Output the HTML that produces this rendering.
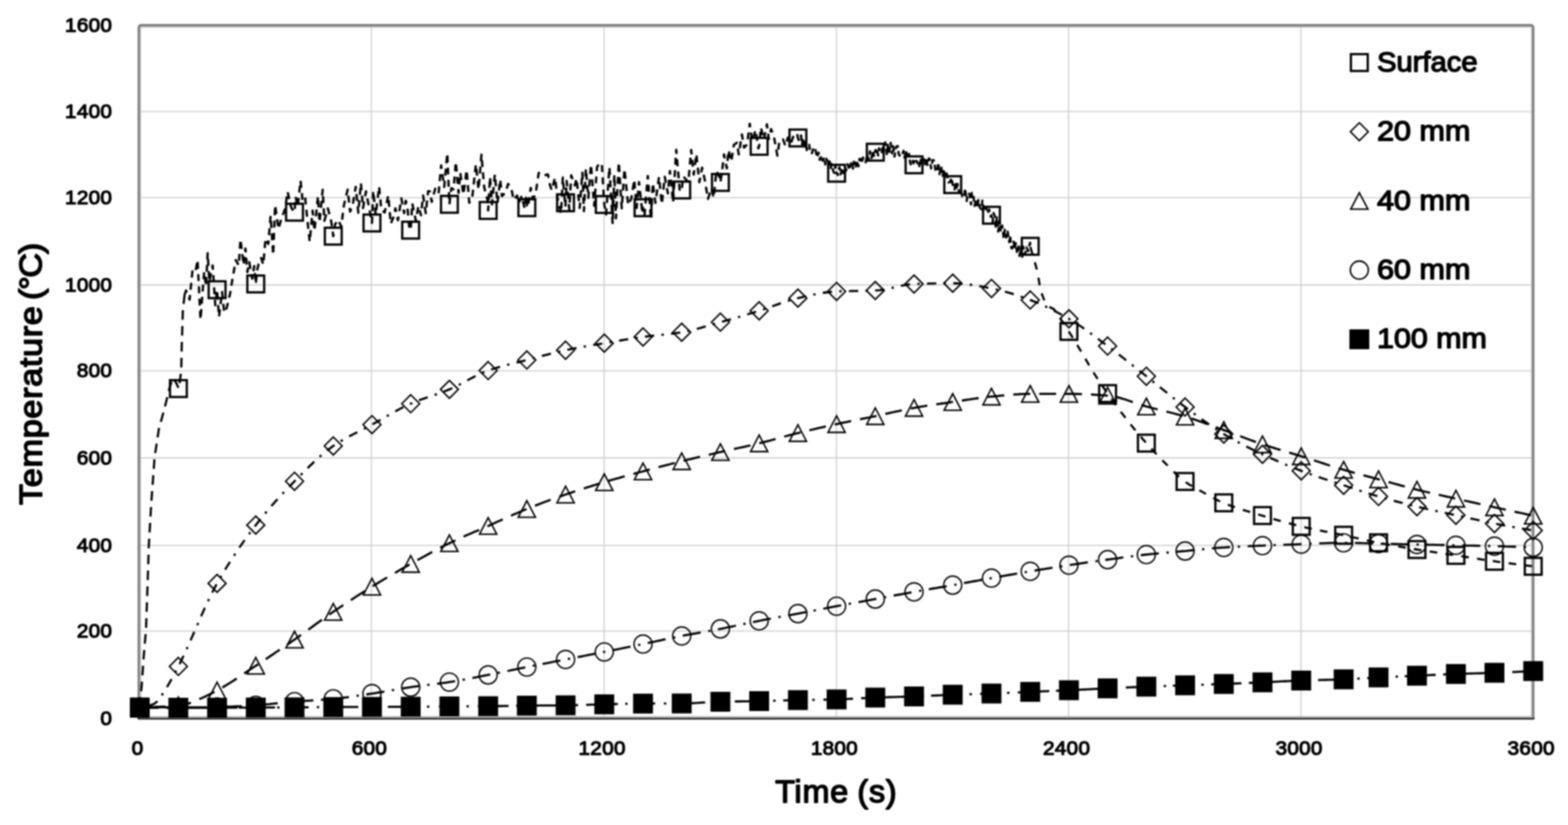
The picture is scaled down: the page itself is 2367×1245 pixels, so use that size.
<!DOCTYPE html>
<html lang="en"><head><meta charset="utf-8"><title>Temperature vs time</title>
<style>
html,body{margin:0;padding:0;background:#fff;}
body{width:2367px;height:1245px;overflow:hidden;}
svg{display:block;}
text{font-family:"Liberation Sans",sans-serif;font-weight:normal;fill:#000;stroke:#000;stroke-linejoin:round;stroke-linecap:round;}
.tick{font-size:29.3px;stroke-width:1.5px;letter-spacing:0.35px;}
.title{font-size:48px;stroke-width:2.1px;}
.tl{letter-spacing:0.95px;}
.tp{letter-spacing:-1.8px;}
.tm{letter-spacing:1.2px;word-spacing:-2px;}
.leg{font-size:42.6px;stroke-width:1.9px;}
.grid line{stroke:#cfcfcf;stroke-width:1.8;}
.mk{fill:none;stroke:#000;stroke-width:2.3;}
.ln{fill:none;stroke:#000;stroke-width:3.3;stroke-linecap:butt;stroke-linejoin:round;}
</style></head><body>
<svg width="2367" height="1245" viewBox="0 0 2367 1245" role="img" aria-label="Temperature versus time chart">
<defs><filter id="soft" x="0" y="0" width="2367" height="1245" filterUnits="userSpaceOnUse" color-interpolation-filters="sRGB"><feGaussianBlur stdDeviation="0.8" result="b"/><feComposite in="SourceGraphic" in2="b" operator="arithmetic" k1="0" k2="0" k3="1" k4="0"/></filter></defs>
<g filter="url(#soft)">
<rect width="2367" height="1245" fill="#fff"/>
<g class="grid">
<line x1="210.6" y1="168.4" x2="2314.4" y2="168.4"/>
<line x1="210.6" y1="298.3" x2="2314.4" y2="298.3"/>
<line x1="210.6" y1="430" x2="2314.4" y2="430"/>
<line x1="210.6" y1="559.6" x2="2314.4" y2="559.6"/>
<line x1="210.6" y1="691" x2="2314.4" y2="691"/>
<line x1="210.6" y1="823.2" x2="2314.4" y2="823.2"/>
<line x1="210.6" y1="952.3" x2="2314.4" y2="952.3"/>
<line x1="560.6" y1="38.2" x2="560.6" y2="1084.2"/>
<line x1="911.9" y1="38.2" x2="911.9" y2="1084.2"/>
<line x1="1262.5" y1="38.2" x2="1262.5" y2="1084.2"/>
<line x1="1613.1" y1="38.2" x2="1613.1" y2="1084.2"/>
<line x1="1964" y1="38.2" x2="1964" y2="1084.2"/>
</g>
<rect x="211.6" y="40.3" width="2100.9" height="1041.7" rx="2" ry="2" fill="none" stroke="#b4b4b4" stroke-width="2.4"/>
<path d="M209.3 1083.5V41.4a3.5 3.5 0 0 1 3.5 -3.5H2311.2a3.5 3.5 0 0 1 3.5 3.5V1083.5" fill="none" stroke="#7a7a7a" stroke-width="3.1"/>
<path d="M208.2 1083.2q0.3 1.5 2.4 1.5H2313.4q2.1 0 2.4 -1.5" fill="none" stroke="#2e2e2e" stroke-width="2.7"/>
<text class="tick" transform="translate(169.3 47.7) scale(1.070 1)" text-anchor="end">1600</text>
<text class="tick" transform="translate(169.3 177.9) scale(1.070 1)" text-anchor="end">1400</text>
<text class="tick" transform="translate(169.3 307.8) scale(1.070 1)" text-anchor="end">1200</text>
<text class="tick" transform="translate(169.3 439.5) scale(1.070 1)" text-anchor="end">1000</text>
<text class="tick" transform="translate(169.3 569.1) scale(1.070 1)" text-anchor="end">800</text>
<text class="tick" transform="translate(169.3 700.5) scale(1.070 1)" text-anchor="end">600</text>
<text class="tick" transform="translate(169.3 832.7) scale(1.070 1)" text-anchor="end">400</text>
<text class="tick" transform="translate(169.3 961.8) scale(1.070 1)" text-anchor="end">200</text>
<text class="tick" transform="translate(169.3 1093.7) scale(1.070 1)" text-anchor="end">0</text>
<text class="tick" transform="translate(207.6 1139.4) scale(1.070 1)" text-anchor="middle">0</text>
<text class="tick" transform="translate(557.6 1139.4) scale(1.070 1)" text-anchor="middle">600</text>
<text class="tick" transform="translate(908.9 1139.4) scale(1.070 1)" text-anchor="middle">1200</text>
<text class="tick" transform="translate(1259.5 1139.4) scale(1.070 1)" text-anchor="middle">1800</text>
<text class="tick" transform="translate(1610.1 1139.4) scale(1.070 1)" text-anchor="middle">2400</text>
<text class="tick" transform="translate(1961 1139.4) scale(1.070 1)" text-anchor="middle">3000</text>
<text class="tick" transform="translate(2311.4 1139.4) scale(1.070 1)" text-anchor="middle">3600</text>
<text class="title tm" transform="translate(1170.2 1211) scale(1.015 1)">Time (s)</text>
<text class="title" transform="translate(62.8 762) rotate(-90) scale(1.075 1)"><tspan class="tl">Temperature </tspan><tspan class="tp" x="287.6">(°C)</tspan></text>
<path class="ln" style="stroke-dasharray:14.5 9.5" d="M211 1067 212.6 1050 214.2 1030 217 990 220.4 950 222.5 890 224.7 822 228.5 757 233.4 690 239.9 647 248.5 616 256 585 261 570 266 578 270 586.4 273.5 560 274.5 517 276 470 278.6 445"/>
<path class="ln" style="stroke-width:3.5;stroke-dasharray:10.5 8" d="M278.6 445 280.9 438.3 286.2 452.2 290.5 409.4 294.8 411.7 298.2 392.3 302.7 482.2 308.2 410 311 432 313.5 381.9 316 425 321 400.6 325 460.7 327.7 437.2 330.6 478.1 335.2 440.4 338.5 471.7 342.1 465 347.5 442.3 350.6 422.9 356 392.4 360.4 400.6 363 361 367.8 399.8 370.5 374.9 373.4 410.6 376.3 395.5 380.7 420.6 383.8 401.5 386.1 428.5 388.1 408 391.7 392.7 394.3 389.4 397.5 399.3 400.8 359.9 405 368.1 408.5 325.8 412.4 384.7 415.3 309.5 420.3 345.5 425 329.3 430.4 315.1 434.1 289.2 439.5 312.8 442.7 318.1 444.6 320.2 446.3 297.1 449.4 312.2 453.7 272.6 456.7 302.1 460.5 296.9 464 331.7 467.5 364.8 471.9 317.8 474.7 348.2 480 296.1 482.4 335.7 487.1 286.3 489.7 333.2 494.9 314.5 499.8 332.9 503.1 356.4 505.8 338.6 510.7 331.8 515.1 342.2 519.3 308.9 524.9 286.1 528.5 319.4 532.2 310.8 537 281.9 540.9 321.1 544.8 276.2 548 314.1 552.5 288.8 557.7 316.2 561.5 336.5 563.4 288.1 567.2 324.2 572.3 281.5 575.7 317 580.7 320.7 586.1 294.9 589.9 337.6 593.6 328.5 596.9 314.4 600.7 332.4 605.9 299.3 610 321.8 612.4 302.9 614.8 309.4 617.6 341.7 620 347.3 622.3 306.8 627.8 333.2 631.6 311 635.5 324.9 638.7 295 642.7 321.8 646.3 288.4 648.9 288.7 651.7 304.8 656.9 284.8 662.1 292.2 665.9 249.6 670.6 282.2 675.2 231.3 678.4 308.3 681.3 283.9 684.7 285.6 688.1 244.2 692.2 291 694.7 260.6 699.6 293.5 704.4 256.6 708.4 305.9 713 296.8 718.4 248.1 722.4 285.9 726.8 233.3 730.9 282.5 736 302.1 736.9 317.6 739.7 267 742.7 308.4 747 263.2 751 306.7 755.1 270.9 757.7 295.9 763.1 290.6 767 277.5 771.9 284.3 775.3 301.7 780.6 295 783 306.7 787.5 295.7 791.9 314.5 794.6 295 795.3 313.4 797.5 308.5 801.2 283.4 804.2 300.1 808.2 294.4 813.3 260.8 818.3 264.5 821.6 264.5 827.2 263.3 830.3 279.6 832.9 287.1 837.8 268.2 842.3 302.9 846.9 322.1 849.6 267.8 853.5 312.2 853.8 306 855.4 272.9 859.4 316.1 862.3 264.6 867.8 279.9 870.3 269.3 875.1 313.8 879.1 260.5 881.5 318.7 884.4 254.4 888.1 298.7 892.1 248.2 897 310.6 901.3 252 905.3 246 908.5 247.9 912.2 308.6 914.9 323.8 920 252.3 924.8 338.2 927.4 263.7 929.8 329.6 934.1 244.8 938.6 314.5 942.7 255 948.3 309.3 953.1 299.2 957.4 271.3 961 313.8 964.6 274.7 969.8 322.2 970.7 313.5 972.9 325.7 977.9 265.4 982.7 331.3 985.5 276.3 989.4 306.2 994.8 267 999.1 308 1003.5 266.7 1008.2 291.9 1011.3 258 1016.1 306 1020.8 226 1026.2 288.9 1029.1 286.7 1031.3 266.2 1035.3 270.4 1039.1 274.7 1043.4 226.3 1047.2 263.4 1051.2 232.6 1055.7 274.9 1059.9 252.9 1064 271.8 1068.7 300.3 1073.9 284.5 1077.4 298.4 1081.5 257.7 1086.3 267.6 1087.5 275.3 1090.3 256.2 1092.9 232.9 1097.2 254.1 1099.8 226.5 1103.9 243.7 1107.8 218.7 1112.5 215.3 1115.2 233 1120 202.9 1123.2 222.7 1127.7 218.2 1131.8 186.8 1135.5 213.2 1140.6 196.3 1144.8 223.9 1146 220.8 1148.6 192.3 1153.1 210.8 1157.7 187.5 1160.5 209.8 1164 194.8 1168.2 205.7 1173.5 234.9 1176.8 211.8 1182.1 210.5 1185.6 220.3 1189.3 207.7 1193.4 217 1198.4 203.9 1203.2 201.3 1204.5 208.2 1206.7 213.3 1209.3 204.4 1210.7 219"/>
<path class="ln" style="stroke-width:3.4;stroke-dasharray:9 5" d="M1210.7 219 1212.1 208.3 1214.6 222.7 1216.1 214 1217.8 226.5 1219.8 218.3 1221.5 218.4 1223.5 230.7 1225.8 231 1228.2 222.7 1230.6 224.3 1233.3 237.2 1235.6 230.2 1237.4 241.3 1240.1 234.8 1241.7 242.5 1244.3 237.5 1245.8 248.2 1247.3 239.6 1249.4 243.4 1250.9 250.3 1252.5 243.6 1254.1 253.5 1255.6 247.7 1257.7 257.7 1259.3 261.1 1261.1 249.8 1262.9 261.4 1264.7 264.1 1267.1 252.4 1269.1 263.2 1271.3 253.6 1273.3 261.3 1275.5 251.9 1277.1 257.5 1279.6 247.8 1282.2 256.3 1283.7 248.7 1286.2 243.8 1287.6 254.6 1289 244 1291.6 253.3 1293.3 242.2 1295.9 251.1 1297.5 239.7 1299 240 1300.7 246.4 1302.7 237.7 1304.9 244.2 1306.8 244.9 1309 233.7 1311.3 241 1313.3 228.3 1315.7 238.5 1317.4 227.8 1319.1 235.4 1321.3 226.9 1321.3 229.7 1323.3 223.8 1325.6 234.7 1327 223.6 1329.2 229.7 1331.1 231.5 1332.5 219.6 1334 227 1336.5 214.8 1338.7 232.5 1340.6 216.4 1341.9 232.7 1344.5 215.4 1346.7 231.5 1348.4 220.6 1350.3 236.3 1352.7 221.8 1355.1 220.2 1356.8 233 1359.1 236.1 1361.4 234.7 1364 227.6 1365.4 238 1367.7 227.1 1369.5 239.6 1372.1 232.2 1374.2 246.4 1375.8 250 1378.3 242.6 1379.8 248.7 1381.7 243.2 1383.8 242.9 1385.8 248.2 1387.4 252.3 1389.6 238.9 1391.9 249.8 1394.3 240 1396.3 248 1398.3 238 1400 249.1 1402.2 239.1 1403.7 240.3 1405.6 254.3 1407.9 241.6 1409.8 242 1412.3 257.3 1414.4 259.2 1416.4 245.5 1418.2 262.9 1420.7 250.9 1423 265.5 1424.4 254.8 1426.4 264.8 1428.7 259.4 1430.4 269.3 1431.8 275 1434 275.2 1436.4 268.4 1438.2 278.6 1441 285.9 1442.5 274.4 1443.8 286.6 1445.5 277.4 1447.9 291.4 1450.1 286.2 1452.6 296.3 1455.2 298.1 1456.8 284.6 1459.3 303.4 1461.1 291.6 1463.6 292.8 1465.8 308.6 1467.1 291 1468.9 291.3 1471.2 310.7 1473.8 300.5 1475.4 313.1 1476.9 301.9 1479.1 313.2 1481.4 315.8 1483 302.6 1485.2 318.3 1486.6 318.7 1488.6 312.8 1490.8 321.9 1493.2 316.1 1495.5 327 1496.7 324.8 1498.4 335.3 1499.8 321.4 1501.6 325.4 1503.1 342 1504.9 328 1506.9 349.5 1509.2 332.1 1510.7 349.2 1512.8 340.3 1515.2 359.3 1516.8 346.8 1518.9 358.4 1521.1 349.6 1523.6 365.5 1524.9 355.8 1526.8 374.5 1528.2 374.8 1530.2 364.6 1531.7 375.8 1533.4 366.9 1535.1 380.3 1537.5 371.9 1539 386.2 1541.4 372.7 1543.2 387.6 1544.6 372.2 1547.2 384.3 1549.6 373.3 1552.1 379.1 1553.8 370.5 1555.1 366.3 1555 371.7"/>
<path class="ln" d="M1555.3 372.5L1558.6 383.6M1562.1 395.7L1565.2 406.7M1567.6 419.1L1569.5 430.4M1572.4 442.7L1576 452 1576.6 453.3M1584 463.2L1587 464.5 1591 466.8 1593.5 469.4M1600.5 479.8L1604 486.4 1606.2 489.8M1613.4 500.2L1617 505.9 1619.5 509.9M1626.1 520.6L1630 527.1 1632.1 530.5M1638.4 541.4L1642.1 547.7 1644.2 551.3M1650.7 562.1L1654.1 567.4 1656.9 571.8M1663.9 582.2L1667.1 586.8 1670.5 591.7M1677.7 602L1681.1 606.7 1684.4 611.3M1691.9 621.5L1695.1 625.6 1698.9 630.6M1706.7 640.5L1710.1 644.7 1714 649.4M1722.1 659L1725.1 662.6 1729.1 667.1 1729.6 667.7M1738.1 677.1L1741.1 680.4 1745.1 684.7 1745.9 685.5M1754.6 694.6L1758.1 698.1 1762.1 702.1 1762.7 702.7M1771.6 711.7L1775.1 715.1 1779.1 718.9 1779.9 719.6M1789.8 727.5L1793.2 729.8 1797.2 732.4 1799.4 733.7M1810.4 739.9L1814.2 741.9 1818.2 744.1 1820.5 745.4M1831.5 751.5L1835.2 753.5 1839.2 755.5 1841.8 756.7M1853.4 761.5L1857.2 763 1861.2 764.4 1864.2 765.4M1876.2 769.4L1879.2 770.3 1883.2 771.5 1887.2 772.7M1899.3 776.3L1903.2 777.5 1907.2 778.7 1910.3 779.6M1922.4 783.2L1926.2 784.3 1930.2 785.4 1933.4 786.3M1945.6 789.7L1949.3 790.7 1953.3 791.7 1956.7 792.6M1969 795.5L1972.3 796.3 1976.3 797.1 1980.2 798M1992.5 800.5L1996.3 801.3 2000.3 802.1 2003.8 802.7M2016.2 805.2L2019.3 805.8 2023.3 806.7 2027.3 807.5 2027.4 807.5M2039.8 810.2L2043.3 811 2047.3 811.9 2051 812.7M2063.3 815.4L2066.3 816.1 2070.3 816.9 2074.3 817.8 2074.5 817.8M2086.9 820.2L2090.4 820.9 2094.4 821.6 2098.2 822.3M2110.6 824.5L2114.4 825.2 2118.4 825.9 2121.9 826.5M2134.4 828.5L2137.4 829 2141.4 829.7 2145.4 830.3 2145.7 830.4M2158.2 832.3L2161.4 832.7 2165.4 833.3 2169.4 833.9 2169.6 833.9M2182 835.8L2185.4 836.3 2189.4 836.8 2193.4 837.4M2205.9 839.3L2209.4 839.9 2213.4 840.5 2217.2 841.1M2229.7 843.1L2233.4 843.6 2237.4 844.3 2241 844.8M2253.5 846.6L2257.5 847.2 2261.5 847.8 2264.9 848.2M2277.4 849.9L2280.5 850.3 2284.5 850.9 2288.5 851.4 2288.8 851.4M2301.3 853L2304.5 853.4 2308.5 853.9 2312.5 854.4 2312.7 854.4"/>
<g class="mk" style="stroke-width:3.4">
<rect x="198.3" y="1054.3" width="25.4" height="25.4"/>
<rect x="256.6" y="573.7" width="25.4" height="25.4"/>
<rect x="315" y="424.5" width="25.4" height="25.4"/>
<rect x="373.4" y="415.8" width="25.4" height="25.4"/>
<rect x="431.9" y="307.5" width="25.4" height="25.4"/>
<rect x="490.4" y="343.7" width="25.4" height="25.4"/>
<rect x="548.8" y="323.8" width="25.4" height="25.4"/>
<rect x="607.2" y="334.6" width="25.4" height="25.4"/>
<rect x="665.7" y="295.6" width="25.4" height="25.4"/>
<rect x="724.2" y="304.9" width="25.4" height="25.4"/>
<rect x="782.6" y="300.7" width="25.4" height="25.4"/>
<rect x="841" y="293.3" width="25.4" height="25.4"/>
<rect x="899.5" y="295.9" width="25.4" height="25.4"/>
<rect x="958" y="300.8" width="25.4" height="25.4"/>
<rect x="1016.4" y="274" width="25.4" height="25.4"/>
<rect x="1074.8" y="262.6" width="25.4" height="25.4"/>
<rect x="1133.3" y="208.1" width="25.4" height="25.4"/>
<rect x="1191.8" y="195.5" width="25.4" height="25.4"/>
<rect x="1250.2" y="248.7" width="25.4" height="25.4"/>
<rect x="1308.6" y="217" width="25.4" height="25.4"/>
<rect x="1367.1" y="236" width="25.4" height="25.4"/>
<rect x="1425.5" y="265.9" width="25.4" height="25.4"/>
<rect x="1484" y="312.1" width="25.4" height="25.4"/>
<rect x="1542.5" y="359" width="25.4" height="25.4"/>
<rect x="1600.9" y="487.4" width="25.4" height="25.4"/>
<rect x="1659.3" y="581.2" width="25.4" height="25.4"/>
<rect x="1717.8" y="656" width="25.4" height="25.4"/>
<rect x="1776.2" y="713.9" width="25.4" height="25.4"/>
<rect x="1834.7" y="746.1" width="25.4" height="25.4"/>
<rect x="1893.1" y="765.3" width="25.4" height="25.4"/>
<rect x="1951.6" y="781.6" width="25.4" height="25.4"/>
<rect x="2015.6" y="795" width="25.4" height="25.4"/>
<rect x="2068.3" y="806.4" width="25.4" height="25.4"/>
<rect x="2126.3" y="816.6" width="25.4" height="25.4"/>
<rect x="2185.1" y="825.4" width="25.4" height="25.4"/>
<rect x="2243.3" y="834.3" width="25.4" height="25.4"/>
<rect x="2301.8" y="841.9" width="25.4" height="25.4"/>
</g>
<path class="ln" d="M211.2 1067L214.8 1066.8M225.6 1064.7L229 1063.5 233 1062 237 1058.8 237.6 1058.1M244.1 1049.2L246.2 1046.3M252 1037L256 1030.1 259 1024.8M264.3 1015.2L266 1012M271 1002.2L275 994.1 277.1 989.6M281.7 979.6L283.2 976.4M287.7 966.3L291 958.8 293.3 953.5M297.7 943.4L299.2 940.1M303.6 930L307 922.4 309.3 917.3M314 907.3L315.5 904M320.4 894.2L324 887.1 326.9 881.8M332.4 872.2L334.2 869.1M339.8 859.7L343 854.5 347 848.1 347.2 847.8M353.2 838.6L355.2 835.6M361.3 826.4L365 821.1 369 815.4 369.3 815M375.8 806.1L378 803.2M384.6 794.4L388 790 392 784.9 393.2 783.4M400.2 774.9L402.5 772.1M409.7 763.8L413 759.9 417 755.4 419 753.3M426.4 745.2L428.9 742.6M436.5 734.6L440.1 730.9 444.1 726.9 446.3 724.6M454 716.8L456.5 714.2M464.3 706.5L468.1 702.8 472.1 699 474.4 696.8M482.5 689.3L485.2 687M493.7 679.9L497.1 677.3 501.1 674.4 505 671.7M514.3 665.8L517.4 664M527 658.6L530.1 657 534.1 654.9 538.1 652.9 539.4 652.2M549.3 647.2L552.5 645.6M562.2 640.4L566.1 638.3 570.1 636 574.1 633.7 574.4 633.6M583.9 628.1L587 626.3M596.6 620.9L600.1 619 604.1 616.9 608.1 614.8 609 614.4M618.9 609.6L622.1 608.3 622.2 608.2M632.5 604.1L636.1 602.8 640.1 601.4 644.1 600 645.7 599.5M656.1 595.9L659.1 594.9 659.5 594.7M669.8 591L673.1 589.7 677.1 588.1 681.1 586.4 682.8 585.7M692.6 580.9L695.8 579.2M705.5 574L709.1 572.1 713.1 570 717.1 567.9 717.9 567.5M727.9 562.8L731.1 561.4 731.2 561.4M741.5 557.6L745.1 556.5 749.1 555.2 753.1 554.1 754.9 553.6M765.5 550.7L769 549.8M779.7 547.1L783.1 546.3 787.1 545.3 791.1 544.3 793.3 543.7M803.9 540.9L807.1 540.1 807.4 540M818 537.2L821.1 536.4 825.1 535.3 829.1 534.3 831.6 533.7M842.3 531.1L845.8 530.3M856.5 527.9L860.2 527.2 864.2 526.4 868.2 525.6 870.3 525.2M881.1 523.2L884.2 522.7 884.6 522.6M895.5 520.7L899.2 520.1 903.2 519.4 907.2 518.8 909.3 518.4M920.1 516.6L923.2 516 923.7 515.9M934.5 514.1L938.2 513.5 942.2 512.8 946.2 512.2 948.3 511.8M959.2 510.2L962.7 509.6M973.6 508.1L977.2 507.6 981.2 507.2 985.2 506.7 987.5 506.5M998.5 505.3L1002.1 504.9M1013 503.7L1016.2 503.3 1020.2 502.7 1024.2 502.2 1026.9 501.8M1037.7 499.8L1041.2 499M1051.9 496.4L1055.2 495.5 1059.2 494.4 1063.2 493.2 1065.4 492.6M1075.9 489.5L1079.2 488.6 1079.4 488.5M1090 485.5L1093.2 484.6 1097.2 483.5 1101.2 482.4 1103.4 481.7M1114 478.7L1117.2 477.7 1117.4 477.6M1128 474.5L1131.2 473.5 1135.2 472.3 1139.2 471.1 1141.4 470.4M1151.9 467.1L1155.2 466 1155.3 466M1165.7 462.3L1169.2 461 1173.2 459.6 1177.2 458.1 1178.8 457.6M1189.3 454.1L1192.7 453M1203.3 450.2L1207.2 449.3 1211.2 448.4 1215.2 447.4 1217 447M1227.7 444.7L1231.2 444 1231.2 444M1242.1 442L1245.2 441.5 1249.2 441 1253.2 440.5 1256 440.3M1266.9 439.6L1270.3 439.5 1270.5 439.5M1281.5 439.3L1285.3 439.2 1289.3 439.1 1293.3 439.1 1295.5 439M1306.5 438.9L1310.1 438.8M1321.1 438.4L1324.3 438.2 1328.3 437.8 1332.3 437.3 1335 436.8M1345.8 434.6L1349.3 433.8 1349.3 433.8M1360 431.3L1363.3 430.7 1367.3 430 1371.3 429.3 1373.8 429M1384.8 428.4L1388.3 428.3 1388.4 428.3M1399.4 428L1403.3 427.9 1407.3 427.8 1411.3 427.7 1413.4 427.6M1424.4 427.5L1428 427.4M1439 427.4L1442.3 427.5 1446.3 427.6 1450.3 427.9 1453 428.1M1463.9 429.5L1467.3 430 1467.5 430M1478.3 431.8L1481.3 432.4 1485.3 433.1 1489.3 433.9 1492.1 434.4M1502.9 436.5L1506.3 437.3 1506.4 437.3M1517 440.1L1520.3 441 1524.3 442.2 1528.3 443.4 1530.4 444.1M1540.9 447.6L1544.3 448.8M1554.6 452.5L1558.3 453.9 1562.3 455.5 1566.3 457.1 1567.6 457.7M1577.6 462.2L1580.9 463.7M1590.7 468.6L1594.3 470.5 1598.3 472.6 1602.3 474.8 1603.1 475.2M1612.7 480.6L1615.8 482.4M1625.1 488.2L1628.3 490.3 1632.3 493 1636.3 495.8 1636.7 496.1M1645.6 502.5L1648.5 504.6M1657.4 511.2L1661.3 514.2 1665.3 517.2 1668.6 519.6M1677.4 526.2L1680.3 528.4M1689 535L1692.4 537.7 1696.4 540.8 1700 543.7M1708.6 550.5L1711.5 552.7M1720.1 559.6L1723.4 562.2 1727.4 565.3 1731.1 568.2M1739.7 575.1L1742.5 577.4M1751 584.3L1754.4 587 1758.4 590.2 1761.9 593.1M1770.5 600L1773.3 602.2M1782 608.9L1785.4 611.5 1789.4 614.5 1793.2 617.4M1802 623.9L1804.9 626M1813.8 632.5L1817.4 635.1 1821.4 637.9 1825.2 640.6M1834.4 646.8L1837.4 648.7M1846.7 654.6L1850.4 656.8 1854.4 659.1 1858.4 661.4 1858.8 661.6M1868.4 666.9L1871.6 668.6M1881.4 673.7L1884.4 675.2 1888.4 677.2 1892.4 679.2 1893.9 679.9M1903.8 684.7L1907.1 686.2M1917.1 690.8L1920.4 692.3 1924.4 694.1 1928.4 695.8 1929.9 696.5M1940 700.8L1943.3 702.2M1953.5 706.3L1957.4 707.8 1961.4 709.4 1965.4 710.9 1966.6 711.4M1976.9 715.1L1980.3 716.3M1990.7 719.9L1994.4 721.2 1998.4 722.5 2002.4 723.8 2004 724.3M2014.4 727.8L2017.9 728.9M2028.3 732.3L2031.4 733.3 2035.4 734.7 2039.4 736 2041.6 736.7M2052 740.2L2055.4 741.3 2055.5 741.3M2065.9 744.6L2069.4 745.7 2073.4 747 2077.4 748.2 2079.3 748.7M2089.9 751.8L2093.4 752.7M2104 755.7L2107.5 756.6 2111.5 757.7 2115.5 758.7 2117.5 759.2M2128.2 761.9L2131.5 762.8 2131.7 762.8M2142.3 765.4L2145.5 766.1 2149.5 767 2153.5 768 2156 768.5M2166.7 770.9L2170.3 771.6M2181 773.9L2184.5 774.6 2188.5 775.5 2192.5 776.4 2194.7 776.8M2205.5 779.2L2208.5 779.8 2209 780M2219.7 782.3L2223.5 783.2 2227.5 784 2231.5 784.9 2233.4 785.3M2244.2 787.6L2247.5 788.3 2247.7 788.3M2258.5 790.5L2261.5 791.1 2265.5 791.8 2269.5 792.6 2272.2 793.1M2283 795.1L2286.5 795.7 2286.6 795.7M2297.4 797.6L2300.5 798.2 2304.5 798.8 2308.5 799.5 2311.2 800"/>
<g class="mk">
<path d="M211 1053.5L224.5 1067L211 1080.5L197.5 1067Z"/>
<path d="M269.2 992.2L282.8 1005.7L269.2 1019.2L255.8 1005.7Z"/>
<path d="M327.7 866.9L341.2 880.4L327.7 893.9L314.2 880.4Z"/>
<path d="M386.1 778.9L399.6 792.4L386.1 805.9L372.6 792.4Z"/>
<path d="M444.6 712.8L458.1 726.3L444.6 739.8L431.1 726.3Z"/>
<path d="M503.1 659.5L516.5 673L503.1 686.5L489.6 673Z"/>
<path d="M561.5 627.3L575 640.8L561.5 654.3L548 640.8Z"/>
<path d="M620 595.7L633.5 609.2L620 622.7L606.5 609.2Z"/>
<path d="M678.4 574.1L691.9 587.6L678.4 601.1L664.9 587.6Z"/>
<path d="M736.9 545.7L750.4 559.2L736.9 572.7L723.4 559.2Z"/>
<path d="M795.3 529.7L808.8 543.2L795.3 556.7L781.8 543.2Z"/>
<path d="M853.8 515L867.2 528.5L853.8 542L840.2 528.5Z"/>
<path d="M912.2 504.4L925.7 517.9L912.2 531.4L898.7 517.9Z"/>
<path d="M970.7 495L984.2 508.5L970.7 522L957.2 508.5Z"/>
<path d="M1029.1 487.9L1042.6 501.4L1029.1 514.9L1015.6 501.4Z"/>
<path d="M1087.5 472.7L1101 486.2L1087.5 499.7L1074 486.2Z"/>
<path d="M1146 455.5L1159.5 469L1146 482.5L1132.5 469Z"/>
<path d="M1204.5 436.4L1218 449.9L1204.5 463.4L1191 449.9Z"/>
<path d="M1262.9 426.3L1276.4 439.8L1262.9 453.3L1249.4 439.8Z"/>
<path d="M1321.3 424.9L1334.8 438.4L1321.3 451.9L1307.8 438.4Z"/>
<path d="M1379.8 415.1L1393.3 428.6L1379.8 442.1L1366.3 428.6Z"/>
<path d="M1438.2 413.9L1451.8 427.4L1438.2 440.9L1424.8 427.4Z"/>
<path d="M1496.7 421.8L1510.2 435.3L1496.7 448.8L1483.2 435.3Z"/>
<path d="M1555.2 439.2L1568.7 452.7L1555.2 466.2L1541.7 452.7Z"/>
<path d="M1613.6 467.6L1627.1 481.1L1613.6 494.6L1600.1 481.1Z"/>
<path d="M1672 508.7L1685.5 522.2L1672 535.7L1658.5 522.2Z"/>
<path d="M1730.5 554.3L1744 567.8L1730.5 581.3L1717 567.8Z"/>
<path d="M1789 600.7L1802.5 614.2L1789 627.7L1775.5 614.2Z"/>
<path d="M1847.4 641.5L1860.9 655L1847.4 668.5L1833.9 655Z"/>
<path d="M1905.8 672.1L1919.3 685.6L1905.8 699.1L1892.3 685.6Z"/>
<path d="M1964.3 697L1977.8 710.5L1964.3 724L1950.8 710.5Z"/>
<path d="M2028.3 718.8L2041.8 732.3L2028.3 745.8L2014.8 732.3Z"/>
<path d="M2081 735.7L2094.5 749.2L2081 762.7L2067.5 749.2Z"/>
<path d="M2139 751.1L2152.5 764.6L2139 778.1L2125.5 764.6Z"/>
<path d="M2197.8 764L2211.3 777.5L2197.8 791L2184.3 777.5Z"/>
<path d="M2256 776.5L2269.5 790L2256 803.5L2242.5 790Z"/>
<path d="M2314.5 787L2328 800.5L2314.5 814L2301 800.5Z"/>
</g>
<path class="ln" d="M224.5 1066.9L228 1066.9 232 1066.8 236 1066.7 240 1066.6 244 1066.5 248 1066.4 250 1066.4M263.6 1065.8L267 1065.7 271 1065.4 275 1064.8 279 1063.8 283 1062.4 287 1060.8 288.2 1060.3M300.8 1055.1L304 1053.7 308 1051.9 312 1050.1 316 1048.1 320 1046.1 323.8 1044.1M335.7 1037.5L339 1035.5 343 1033.1 347 1030.6 351 1028.1 355 1025.5 357.3 1024M368.6 1016.4L372 1014.1 376 1011.4 380 1008.7 384 1006.1 388 1003.5 389.8 1002.3M401.1 994.8L405 992.1 409 989.5 413 986.8 417 984 421 981.3 422.3 980.5M433.5 972.8L437.1 970.3 441.1 967.6 445.1 964.8 449.1 962 453.1 959.1 454.4 958.2M465.4 950.2L469.1 947.6 473.1 944.6 477.1 941.7 481.1 938.8 485.1 935.9 486 935.2M497.1 927.4L501.1 924.7 505.1 921.9 509.1 919.2 513.1 916.5 517.1 913.8 518.2 913.1M529.6 905.6L533.1 903.3 537.1 900.7 541.1 898.1 545.1 895.6 549.1 893.1 551.1 891.8M562.6 884.6L566.1 882.5 570.1 880 574.1 877.6 578.1 875.2 582.1 872.8 584.4 871.4M596.2 864.6L600.1 862.3 604.1 860 608.1 857.7 612.1 855.4 616.1 853.2 618.3 851.9M630.2 845.3L634.1 843.1 638.1 840.9 642.1 838.7 646.1 836.5 650.1 834.3 652.5 833M664.6 826.7L668.1 824.8 672.1 822.8 676.1 820.8 680.1 818.9 684.1 817 687.4 815.4M699.8 809.8L703.1 808.3 707.1 806.6 711.1 804.9 715.1 803.1 719.1 801.4 723.1 799.7 723.2 799.6M735.7 794.2L739.1 792.7 743.1 790.9 747.1 789.1 751.1 787.3 755.1 785.5 759 783.8M771.4 778.3L775.1 776.6 779.1 774.9 783.1 773.2 787.1 771.5 791.1 769.8 794.9 768.3M807.5 763.3L811.1 761.9 815.1 760.3 819.1 758.8 823.1 757.3 827.1 755.8 831.1 754.3 831.3 754.3M844.1 749.7L847.2 748.6 851.2 747.2 855.2 745.8 859.2 744.5 863.2 743.1 867.2 741.8 868.3 741.4M881.2 737.2L885.2 735.9 889.2 734.7 893.2 733.4 897.2 732.2 901.2 730.9 905.2 729.7 905.5 729.6M918.6 725.7L922.2 724.7 926.2 723.5 930.2 722.4 934.2 721.3 938.2 720.1 942.2 719 943.1 718.8M956.2 715.2L960.2 714.1 964.2 713 968.2 712 972.2 710.9 976.2 709.8 980.2 708.7 980.9 708.5M994 705L997.2 704.2 1001.2 703.1 1005.2 702.1 1009.2 701.1 1013.2 700 1017.2 699 1018.7 698.6M1031.9 695.3L1035.2 694.5 1039.2 693.5 1043.2 692.6 1047.2 691.6 1051.2 690.7 1055.2 689.7 1056.7 689.4M1069.9 686.3L1073.2 685.5 1077.2 684.6 1081.2 683.7 1085.2 682.7 1089.2 681.8 1093.2 680.9 1094.8 680.6M1108 677.6L1111.2 676.9 1115.2 676 1119.2 675.2 1123.2 674.3 1127.2 673.4 1131.2 672.5 1132.9 672.1M1146.2 669L1149.2 668.2 1153.2 667.2 1157.2 666.1 1161.2 665.1 1165.2 664 1169.2 662.9 1170.8 662.5M1183.9 658.9L1187.2 658 1191.2 656.9 1195.2 655.9 1199.2 654.8 1203.2 653.8 1207.2 652.8 1208.6 652.5M1221.8 649.3L1225.2 648.5 1229.2 647.6 1233.2 646.6 1237.2 645.7 1241.2 644.8 1245.2 643.9 1246.7 643.6M1260 640.6L1263.3 639.9 1267.3 639.1 1271.3 638.2 1275.3 637.4 1279.3 636.6 1283.3 635.7 1284.9 635.4M1298.3 632.7L1302.3 631.9 1306.3 631.1 1310.3 630.3 1314.3 629.5 1318.3 628.6 1322.3 627.8 1323.2 627.6M1336.5 624.7L1340.3 623.8 1344.3 622.9 1348.3 622 1352.3 621.1 1356.3 620.3 1360.3 619.4 1361.4 619.1M1374.7 616.4L1378.3 615.8 1382.3 615.1 1386.3 614.4 1390.3 613.7 1394.3 613.1 1398.3 612.4 1399.9 612.2M1413.3 610.2L1417.3 609.6 1421.3 609 1425.3 608.5 1429.3 607.9 1433.3 607.3 1437.3 606.7 1438.6 606.6M1452 604.5L1455.3 604 1459.3 603.4 1463.3 602.8 1467.3 602.2 1471.3 601.6 1475.3 601 1477.3 600.8M1490.8 599.1L1494.3 598.7 1498.3 598.3 1502.3 598 1506.3 597.6 1510.3 597.2 1514.3 596.8 1516.1 596.6M1529.7 595.5L1533.3 595.2 1537.3 595 1541.3 594.7 1545.3 594.6 1549.3 594.5 1553.3 594.4 1555.2 594.4M1568.8 594.4L1572.3 594.4 1576.3 594.4 1580.3 594.4 1584.3 594.4 1588.3 594.4 1592.3 594.4 1594.3 594.4M1607.9 594.4L1611.3 594.4 1615.3 594.4 1619.3 594.4 1623.3 594.5 1627.3 594.6 1631.3 594.7 1633.3 594.8M1646.9 595.3L1650.3 595.5 1654.3 595.8 1658.3 596 1662.3 596.3 1666.3 596.6 1670.3 596.9 1672.4 597M1685.8 599.2L1689.4 600.1 1693.4 601.3 1697.4 602.5 1701.4 603.8 1705.4 605.2 1709.4 606.6 1710.1 606.8M1723 611.2L1726.4 612.2 1730.4 613.4 1734.4 614.4 1738.4 615.5 1742.4 616.5 1746.4 617.5 1747.6 617.8M1760.8 621.1L1764.4 622 1768.4 623 1772.4 624 1776.4 625.1 1780.4 626.1 1784.4 627.3 1785.5 627.6M1798.5 631.6L1802.4 632.9 1806.4 634.2 1810.4 635.6 1814.4 637 1818.4 638.4 1822.4 639.9 1822.6 639.9M1835.3 644.6L1838.4 645.7 1842.4 647.2 1846.4 648.6 1850.4 650.1 1854.4 651.5 1858.4 653 1859.3 653.4M1872 658.2L1875.4 659.5 1879.4 661 1883.4 662.5 1887.4 664 1891.4 665.4 1895.4 666.9 1895.9 667.1M1908.8 671.5L1912.4 672.7 1916.4 673.9 1920.4 675.2 1924.4 676.4 1928.4 677.7 1932.4 678.9 1933.1 679.1M1946.1 683L1949.4 683.9 1953.4 685.2 1957.4 686.4 1961.4 687.6 1965.4 688.9 1969.4 690.1 1970.5 690.5M1983.5 694.7L1987.4 696 1991.4 697.3 1995.4 698.6 1999.4 699.9 2003.4 701.2 2007.4 702.5 2007.7 702.5M2020.7 706.6L2024.4 707.8 2028.4 708.9 2032.4 710.1 2036.4 711.2 2040.4 712.4 2044.4 713.5 2045.2 713.7M2058.3 717.2L2061.4 718.1 2065.4 719.1 2069.4 720.2 2073.4 721.3 2077.4 722.3 2081.4 723.4 2082.9 723.8M2096.1 727.4L2099.4 728.4 2103.4 729.5 2107.5 730.6 2111.5 731.7 2115.5 732.8 2119.5 733.9 2120.6 734.2M2133.8 737.7L2137.5 738.6 2141.5 739.6 2145.5 740.6 2149.5 741.5 2153.5 742.5 2157.5 743.4 2158.6 743.7M2171.8 746.7L2175.5 747.5 2179.5 748.4 2183.5 749.3 2187.5 750.2 2191.5 751.1 2195.5 752 2196.7 752.3M2210 755.3L2213.5 756 2217.5 756.9 2221.5 757.8 2225.5 758.7 2229.5 759.6 2233.5 760.5 2234.9 760.8M2248.1 763.8L2251.5 764.5 2255.5 765.4 2259.5 766.3 2263.5 767.1 2267.5 768 2271.5 768.9 2273.1 769.2M2286.3 772.1L2289.5 772.8 2293.5 773.7 2297.5 774.5 2301.5 775.4 2305.5 776.3 2309.5 777.1 2311.3 777.5"/>
<g class="mk">
<path d="M211 1054.5L224 1079.5L198 1079.5Z"/>
<path d="M269.2 1052L282.2 1077L256.2 1077Z"/>
<path d="M327.7 1029.5L340.7 1054.5L314.7 1054.5Z"/>
<path d="M386.1 992.2L399.1 1017.2L373.1 1017.2Z"/>
<path d="M444.6 952.6L457.6 977.6L431.6 977.6Z"/>
<path d="M503.1 910.8L516 935.8L490.1 935.8Z"/>
<path d="M561.5 872.8L574.5 897.8L548.5 897.8Z"/>
<path d="M620 838.5L633 863.5L607 863.5Z"/>
<path d="M678.4 807.2L691.4 832.2L665.4 832.2Z"/>
<path d="M736.9 781.2L749.9 806.2L723.9 806.2Z"/>
<path d="M795.3 755.6L808.3 780.6L782.3 780.6Z"/>
<path d="M853.8 733.8L866.8 758.8L840.8 758.8Z"/>
<path d="M912.2 715.1L925.2 740.1L899.2 740.1Z"/>
<path d="M970.7 698.8L983.7 723.8L957.7 723.8Z"/>
<path d="M1029.1 683.5L1042.1 708.5L1016.1 708.5Z"/>
<path d="M1087.5 669.7L1100.5 694.7L1074.5 694.7Z"/>
<path d="M1146 656.5L1159 681.5L1133 681.5Z"/>
<path d="M1204.5 641L1217.5 666L1191.5 666Z"/>
<path d="M1262.9 627.5L1275.9 652.5L1249.9 652.5Z"/>
<path d="M1321.3 615.5L1334.3 640.5L1308.3 640.5Z"/>
<path d="M1379.8 603L1392.8 628L1366.8 628Z"/>
<path d="M1438.2 594.1L1451.2 619.1L1425.2 619.1Z"/>
<path d="M1496.7 586L1509.7 611L1483.7 611Z"/>
<path d="M1555.2 581.9L1568.2 606.9L1542.2 606.9Z"/>
<path d="M1613.6 581.9L1626.6 606.9L1600.6 606.9Z"/>
<path d="M1672 584.5L1685 609.5L1659 609.5Z"/>
<path d="M1730.5 600.9L1743.5 625.9L1717.5 625.9Z"/>
<path d="M1789 616.1L1802 641.1L1776 641.1Z"/>
<path d="M1847.4 636.5L1860.4 661.5L1834.4 661.5Z"/>
<path d="M1905.8 658L1918.8 683L1892.8 683Z"/>
<path d="M1964.3 676L1977.3 701L1951.3 701Z"/>
<path d="M2028.3 696.4L2041.3 721.4L2015.3 721.4Z"/>
<path d="M2081 710.8L2094 735.8L2068 735.8Z"/>
<path d="M2139 726.5L2152 751.5L2126 751.5Z"/>
<path d="M2197.8 740L2210.8 765L2184.8 765Z"/>
<path d="M2256 753L2269 778L2243 778Z"/>
<path d="M2314.5 765.7L2327.5 790.7L2301.5 790.7Z"/>
</g>
<path class="ln" d="M214.9 1067.1L218 1067.1 218.4 1067.1M229.9 1067.3L233 1067.3 237 1067.3 241 1067.4 245 1067.4 249 1067.4 253 1067.5 257 1067.5 257.4 1067.5M268.9 1067.5L272 1067.5 272.4 1067.5M283.9 1067.5L287 1067.4 291 1067.4 295 1067.4 299 1067.4 303 1067.3 307 1067.3 311 1067.2 311.4 1067.2M322.9 1067.1L326 1067 326.4 1067M337.9 1066.8L341 1066.7 345 1066.5 349 1066.4 353 1066.2 357 1066 361 1065.8 365 1065.6 365.4 1065.5M376.9 1064.9L380 1064.7 380.4 1064.7M391.8 1063.9L395 1063.7 399 1063.3 403 1062.9 407 1062.6 411 1062.1 415 1061.7 419 1061.3 419.2 1061.3M430.7 1060.1L434.1 1059.8 434.1 1059.7M445.6 1058.7L449.1 1058.5 453.1 1058.2 457.1 1057.9 461.1 1057.6 465.1 1057.3 469.1 1057.1 473 1056.8M484.5 1056.1L488 1055.8M499.5 1054.9L503.1 1054.6 507.1 1054.2 511.1 1053.8 515.1 1053.3 519.1 1052.8 523.1 1052.3 526.8 1051.8M538.2 1050.2L541.6 1049.7M553 1048L556.1 1047.5 560.1 1046.9 564.1 1046.3 568.1 1045.7 572.1 1045 576.1 1044.4 580.1 1043.7 580.2 1043.7M591.5 1041.7L594.9 1041.1M606.3 1039.2L610.1 1038.5 614.1 1037.9 618.1 1037.3 622.1 1036.7 626.1 1036.1 630.1 1035.6 633.5 1035.2M644.9 1033.7L648.1 1033.3 648.4 1033.3M659.8 1031.9L663.1 1031.5 667.1 1030.9 671.1 1030.4 675.1 1029.8 679.1 1029.2 683.1 1028.6 687 1027.9M698.3 1025.9L701.8 1025.3M713.1 1023.1L716.1 1022.6 720.1 1021.8 724.1 1021 728.1 1020.2 732.1 1019.4 736.1 1018.6 740 1017.9M751.3 1015.6L754.7 1014.9M766 1012.6L769.1 1012 773.1 1011.1 777.1 1010.3 781.1 1009.5 785.1 1008.7 789.1 1007.8 792.9 1007.1M804.2 1004.8L807.7 1004.2M819 1002L822.1 1001.3 826.1 1000.6 830.1 999.8 834.1 999 838.1 998.2 842.2 997.5 845.9 996.7M857.2 994.5L860.7 993.9M872 991.7L875.2 991 879.2 990.3 883.2 989.5 887.2 988.7 891.2 987.9 895.2 987.2 899 986.4M910.2 984.2L913.7 983.5M924.9 981.2L928.2 980.6 932.2 979.8 936.2 979 940.2 978.2 944.2 977.3 948.2 976.5 951.9 975.8M963.2 973.4L966.2 972.8 966.6 972.7M977.8 970.4L981.2 969.7 985.2 968.9 989.2 968 993.2 967.1 997.2 966.3 1001.2 965.4 1004.7 964.7M1016 962.3L1019.2 961.7 1019.4 961.6M1030.7 959.4L1034.2 958.7 1038.2 958 1042.2 957.2 1046.2 956.5 1050.2 955.8 1054.2 955.1 1057.8 954.4M1069.1 952.4L1072.2 951.9 1072.5 951.8M1083.8 949.7L1087.2 949.1 1091.2 948.3 1095.2 947.5 1099.2 946.7 1103.2 945.8 1107.2 945 1110.8 944.2M1122 941.8L1125.2 941.2 1125.5 941.1M1136.7 938.8L1140.2 938.1 1144.2 937.3 1148.2 936.5 1152.2 935.7 1156.2 934.9 1160.2 934.2 1163.7 933.5M1175 931.4L1178.2 930.8 1178.5 930.8M1189.8 928.7L1193.2 928.1 1197.2 927.4 1201.2 926.6 1205.2 925.9 1209.2 925.1 1213.2 924.3 1216.8 923.6M1228.1 921.5L1231.2 920.9 1231.5 920.8M1242.8 918.6L1246.2 918 1250.2 917.2 1254.2 916.4 1258.2 915.7 1262.2 914.9 1266.3 914.2 1269.8 913.5M1281.1 911.4L1284.3 910.8 1284.6 910.8M1295.9 908.7L1299.3 908.1 1303.3 907.3 1307.3 906.6 1311.3 905.9 1315.3 905.1 1319.3 904.4 1322.9 903.7M1334.2 901.6L1337.3 901 1337.7 901M1349 898.9L1352.3 898.2 1356.3 897.5 1360.3 896.8 1364.3 896 1368.3 895.3 1372.3 894.6 1376 893.9M1387.4 891.9L1390.8 891.2M1402.1 889.3L1405.3 888.7 1409.3 888 1413.3 887.4 1417.3 886.7 1421.3 886 1425.3 885.3 1429.2 884.6M1440.6 882.6L1444 882M1455.3 879.9L1459.3 879.2 1463.3 878.5 1467.3 877.7 1471.3 877 1475.3 876.3 1479.3 875.5 1482.4 875M1493.7 872.9L1497.1 872.3M1508.5 870.3L1512.3 869.6 1516.3 868.9 1520.3 868.2 1524.3 867.5 1528.3 866.8 1532.3 866.1 1535.5 865.5M1546.9 863.6L1550.3 863 1550.3 863M1561.7 861.1L1565.3 860.5 1569.3 859.9 1573.3 859.2 1577.3 858.6 1581.3 857.9 1585.3 857.3 1588.8 856.7M1600.2 855L1603.3 854.5 1603.6 854.4M1615 852.7L1618.3 852.2 1622.3 851.6 1626.3 851 1630.3 850.4 1634.3 849.8 1638.3 849.2 1642.2 848.7M1653.6 847.1L1657.1 846.6M1668.5 845L1672.3 844.5 1676.3 843.9 1680.3 843.4 1684.4 842.8 1688.4 842.3 1692.4 841.7 1695.7 841.2M1707.1 839.7L1710.4 839.3 1710.6 839.3M1722 837.9L1725.4 837.5 1729.4 837 1733.4 836.6 1737.4 836.2 1741.4 835.8 1745.4 835.4 1749.3 835M1760.8 834L1764.3 833.7M1775.7 832.7L1779.4 832.4 1783.4 832 1787.4 831.6 1791.4 831.3 1795.4 830.9 1799.4 830.5 1803.1 830.1M1814.6 829L1818 828.7M1829.5 827.6L1833.4 827.2 1837.4 826.9 1841.4 826.6 1845.4 826.3 1849.4 826.1 1853.4 825.8 1856.9 825.6M1868.4 825L1871.9 824.9M1883.4 824.3L1886.4 824.2 1890.4 824 1894.4 823.9 1898.4 823.7 1902.4 823.5 1906.4 823.4 1910.4 823.2 1910.9 823.2M1922.4 822.7L1925.4 822.6 1925.8 822.6M1937.3 822.2L1940.4 822.1 1944.4 821.9 1948.4 821.8 1952.4 821.6 1956.4 821.5 1960.4 821.3 1964.4 821.2 1964.8 821.2M1976.3 820.7L1979.4 820.6 1979.8 820.6M1991.3 820.1L1994.4 819.9 1998.4 819.8 2002.4 819.6 2006.4 819.5 2010.4 819.4 2014.4 819.3 2018.4 819.2 2018.8 819.2M2030.3 819.1L2033.4 819.1 2033.8 819.1M2045.3 819.3L2048.4 819.4 2052.4 819.5 2056.4 819.7 2060.4 819.8 2064.4 819.9 2068.4 820 2072.4 820.2 2072.8 820.2M2084.3 820.5L2087.4 820.6 2087.8 820.6M2099.3 820.8L2102.4 820.9 2106.5 821 2110.5 821.1 2114.5 821.2 2118.5 821.3 2122.5 821.3 2126.5 821.4 2126.8 821.4M2138.3 821.7L2141.5 821.8 2141.8 821.8M2153.2 822L2156.5 822.1 2160.5 822.1 2164.5 822.2 2168.5 822.3 2172.5 822.4 2176.5 822.5 2180.5 822.5 2180.7 822.5M2192.2 822.8L2195.5 822.9 2195.7 822.9M2207.2 823.1L2210.5 823.2 2214.5 823.3 2218.5 823.3 2222.5 823.4 2226.5 823.5 2230.5 823.6 2234.5 823.7 2234.7 823.7M2246.2 824L2249.5 824 2249.7 824M2261.2 824.3L2264.5 824.4 2268.5 824.5 2272.5 824.7 2276.5 824.8 2280.5 824.9 2284.5 825 2288.5 825.1 2288.7 825.1M2300.2 825.5L2303.5 825.6 2303.7 825.6"/>
<g class="mk" style="stroke-width:2.15">
<circle cx="211" cy="1067" r="13.6"/>
<circle cx="269.2" cy="1067.5" r="13.6"/>
<circle cx="327.7" cy="1067" r="13.6"/>
<circle cx="386.1" cy="1064.3" r="13.6"/>
<circle cx="444.6" cy="1058.8" r="13.6"/>
<circle cx="503.1" cy="1054.6" r="13.6"/>
<circle cx="561.5" cy="1046.7" r="13.6"/>
<circle cx="620" cy="1037" r="13.6"/>
<circle cx="678.4" cy="1029.3" r="13.6"/>
<circle cx="736.9" cy="1018.5" r="13.6"/>
<circle cx="795.3" cy="1006.6" r="13.6"/>
<circle cx="853.8" cy="995.2" r="13.6"/>
<circle cx="912.2" cy="983.8" r="13.6"/>
<circle cx="970.7" cy="971.9" r="13.6"/>
<circle cx="1029.1" cy="959.7" r="13.6"/>
<circle cx="1087.5" cy="949" r="13.6"/>
<circle cx="1146" cy="936.9" r="13.6"/>
<circle cx="1204.5" cy="926" r="13.6"/>
<circle cx="1262.9" cy="914.8" r="13.6"/>
<circle cx="1321.3" cy="904" r="13.6"/>
<circle cx="1379.8" cy="893.2" r="13.6"/>
<circle cx="1438.2" cy="883" r="13.6"/>
<circle cx="1496.7" cy="872.4" r="13.6"/>
<circle cx="1555.2" cy="862.2" r="13.6"/>
<circle cx="1613.6" cy="852.9" r="13.6"/>
<circle cx="1672" cy="844.5" r="13.6"/>
<circle cx="1730.5" cy="836.9" r="13.6"/>
<circle cx="1789" cy="831.5" r="13.6"/>
<circle cx="1847.4" cy="826.2" r="13.6"/>
<circle cx="1905.8" cy="823.4" r="13.6"/>
<circle cx="1964.3" cy="821.2" r="13.6"/>
<circle cx="2028.3" cy="819.1" r="13.6"/>
<circle cx="2081" cy="820.4" r="13.6"/>
<circle cx="2139" cy="821.7" r="13.6"/>
<circle cx="2197.8" cy="822.9" r="13.6"/>
<circle cx="2256" cy="824.2" r="13.6"/>
<circle cx="2314.5" cy="826" r="13.6"/>
</g>
<path class="ln" d="M211 1068L215 1068 219 1068 223 1068 227 1068 231 1068 235 1068 239 1068 239.7 1068M250.9 1068L254 1068 258 1068 262 1068 266 1068 270 1068 274 1068 278 1068 282 1068 286 1068 290 1068 294 1068 298 1068 302 1068 306 1068 310 1068 314 1068 318 1068 322 1068 326 1068 330 1068 334 1068 338 1068 342 1068 346 1067.9 350 1067.9 354 1067.9 358 1067.9 358.4 1067.9M360.4 1067.9L364 1067.8 368 1067.8 372 1067.8 376 1067.8 380 1067.7 384 1067.7 388 1067.7 392 1067.7 396 1067.7 400 1067.7 404 1067.6 408 1067.6 412 1067.6 415.2 1067.6M418.4 1067.6L422 1067.6M440 1067.5L443.1 1067.5 447.1 1067.5 451.1 1067.5 455.1 1067.4 459.1 1067.4 463.1 1067.4 465.9 1067.3M478.2 1067.2L481.8 1067.2M495 1067.1L498.1 1067 502.1 1067 506.1 1067 510.1 1067 514.1 1067 518.1 1066.9 522.1 1066.9 526.1 1066.9 530.1 1066.9 534.1 1066.9 538.1 1066.9 540.9 1066.9M585.5 1066.7L589.1 1066.7 593.1 1066.7 597.1 1066.6 601.1 1066.6 605.1 1066.6 609.1 1066.6 613.1 1066.5 617.1 1066.5 621.1 1066.5 625.1 1066.5 629.1 1066.4 632 1066.4M644.6 1066.3L648.1 1066.3 648.2 1066.3M662.6 1066.1L666.1 1066.1 670.1 1066.1 674.1 1066 678.1 1066 682.1 1066 686.1 1066 690.1 1065.9 693 1065.9M704.2 1065.9L707.8 1065.9M721.3 1065.8L725.1 1065.8 729.1 1065.8 733.1 1065.7 737.1 1065.7 741.1 1065.7 745.1 1065.6 749.1 1065.6 753.1 1065.5 757.1 1065.5 761.1 1065.4 765.1 1065.3 767.7 1065.3M779.1 1065.1L782.1 1065.1 786.1 1065 790.1 1065 794.1 1064.9 798.1 1064.9 802.1 1064.8 806.1 1064.8 810.1 1064.8 814.1 1064.7 818.1 1064.7 822.1 1064.7 826.1 1064.7 830.1 1064.6 834.1 1064.6 838.1 1064.6 842.2 1064.5 846.2 1064.5 850.2 1064.4 854.2 1064.4 858.2 1064.3 862.2 1064.3 866.2 1064.2 870.2 1064.1 872.6 1064M884.8 1063.7L888.2 1063.6 892.2 1063.4 896.2 1063.3 900.2 1063.2 904.2 1063.1 908.2 1063 912.2 1062.9 916.2 1062.8 920.2 1062.7 924.2 1062.6 928.2 1062.5 932.2 1062.4 932.7 1062.4M943.8 1062.2L947.2 1062.1 947.4 1062.1M958 1061.9L961.2 1061.9 965.2 1061.8 969.2 1061.8 973.2 1061.8 977.2 1061.8 981.2 1061.8 985.2 1061.7 989 1061.7M1002.2 1061.7L1005.8 1061.7M1015 1061.7L1018.2 1061.7 1022.2 1061.6 1026.2 1061.6 1030.2 1061.6 1034.2 1061.5 1038.2 1061.4 1042.2 1061.3 1046.2 1061.1 1050.2 1060.9 1054.2 1060.7 1058.2 1060.4 1062.2 1060.2 1064.6 1060.1M1109.2 1058.6L1112.2 1058.5 1116.2 1058.5 1120.2 1058.4 1124.2 1058.4 1128.2 1058.3 1132.2 1058.2 1136.2 1058.2 1140.2 1058.1 1144.2 1058 1148.2 1058 1152.2 1057.9 1156.2 1057.8 1158 1057.7M1167.2 1057.5L1170.2 1057.4 1170.8 1057.4M1182.3 1057.1L1186.2 1056.9 1190.2 1056.8 1194.2 1056.7 1198.2 1056.6 1202.2 1056.5 1206.2 1056.5 1210.2 1056.4 1214.2 1056.3 1215 1056.3M1226.2 1056.1L1229.2 1056.1 1229.8 1056.1M1243 1055.9L1246.2 1055.8 1250.2 1055.8 1254.2 1055.7 1258.2 1055.6 1262.2 1055.5 1266.3 1055.4 1270.3 1055.3 1274.3 1055.1 1278.3 1054.9 1282.3 1054.7 1286.3 1054.5 1287.7 1054.4M1300 1053.7L1303.3 1053.6 1307.3 1053.3 1311.3 1053.1 1315.3 1052.9 1319.3 1052.8 1323.3 1052.6 1327.3 1052.5 1331.3 1052.4 1335.3 1052.3 1339.3 1052.1 1343.3 1052 1347.3 1051.9 1351.3 1051.8 1355.3 1051.7 1359.3 1051.6 1363.3 1051.5 1367.3 1051.4 1371.3 1051.3 1375.3 1051.2 1379.3 1051 1383.3 1050.9 1387.3 1050.7 1391.3 1050.5 1395 1050.4M1405.4 1049.9L1409.3 1049.7 1413.3 1049.5 1417.3 1049.3 1421.3 1049.1 1425.3 1048.9 1429.3 1048.8 1433.3 1048.6 1437.3 1048.4 1441.3 1048.3 1445.3 1048.2 1449.3 1048 1451 1048M1463.5 1047.6L1467.1 1047.5M1479.5 1047.2L1483.3 1047 1487.3 1046.9 1491.3 1046.8 1495.3 1046.6 1499.3 1046.5 1503.3 1046.4 1507.3 1046.2 1510 1046.1M1520.2 1045.7L1523.3 1045.5 1523.8 1045.5M1536.3 1044.9L1539.3 1044.8 1543.3 1044.6 1547.3 1044.4 1551.3 1044.3 1555.3 1044.1 1559.3 1043.9 1563.3 1043.8 1567.3 1043.6 1571.3 1043.4 1575.3 1043.2 1579.3 1043.1 1583.3 1042.9 1584 1042.9M1594.2 1042.5L1597.3 1042.3 1601.3 1042.1 1605.3 1042 1609.3 1041.8 1613.3 1041.6 1617.3 1041.4 1621.3 1041.2 1625.3 1041.1 1629.3 1040.9 1633.3 1040.7 1637.3 1040.5 1641.3 1040.3 1645.3 1040.1 1649.3 1039.9 1653.3 1039.7 1657.3 1039.5 1661.3 1039.3 1665.3 1039.1 1669.3 1038.9 1673.3 1038.7 1677.3 1038.6 1681.3 1038.4 1685.4 1038.2 1687 1038.1M1699.6 1037.5L1703.4 1037.4 1707.4 1037.2 1711.4 1037 1715.4 1036.8 1719.4 1036.7 1723.4 1036.5 1727.4 1036.3 1731.4 1036.2 1735.4 1036 1739.4 1035.9 1743.4 1035.7 1745 1035.7M1756.7 1035.3L1760.3 1035.1M1770.6 1034.8L1774.4 1034.7 1778.4 1034.6 1782.4 1034.4 1786.4 1034.3 1790.4 1034.2 1794.4 1034 1798.4 1033.9 1800 1033.8M1813.5 1033.4L1817.1 1033.3M1828.4 1032.9L1832.4 1032.7 1836.4 1032.6 1840.4 1032.5 1844.4 1032.3 1848.4 1032.2 1852.4 1032 1856.4 1031.8 1860.4 1031.7 1864.4 1031.5 1868.4 1031.4 1872.4 1031.2 1874.1 1031.1M1885.3 1030.6L1888.4 1030.5 1892.4 1030.3 1896.4 1030.1 1900.4 1029.9 1904.4 1029.8 1908.4 1029.6 1912.4 1029.4 1916.4 1029.2 1920.4 1029 1924.4 1028.8 1928.4 1028.6 1932.4 1028.4 1936.4 1028.2 1940.4 1028 1944.4 1027.8 1948.4 1027.6 1952.4 1027.5 1956.4 1027.3 1960.4 1027.1 1964.4 1027 1968.4 1026.9 1972.4 1026.7 1976.4 1026.6 1978 1026.6M1989.8 1026.3L1993.4 1026.2 1997.4 1026.1 2001.4 1026 2005.4 1025.9 2009.4 1025.8 2013.4 1025.7 2017.4 1025.6 2021.4 1025.4 2025.4 1025.3 2029.4 1025.2 2033.4 1025 2037.4 1024.8 2040 1024.7M2048.9 1024.2L2052.4 1024 2052.5 1024M2063.9 1023.3L2067.4 1023 2071.4 1022.8 2075.4 1022.6 2079.4 1022.4 2083.4 1022.2 2087.4 1022 2091.4 1021.8 2095 1021.6M2106.7 1021.1L2110.3 1021M2120.6 1020.5L2124.5 1020.3 2128.5 1020.2 2132.5 1020 2136.5 1019.8 2140.5 1019.6 2144.5 1019.5 2148.5 1019.3 2152.5 1019.1 2156.5 1018.9 2160.5 1018.7 2164.5 1018.5 2167.3 1018.4M2178.5 1017.9L2182.5 1017.7 2186.5 1017.5 2190.5 1017.4 2194.5 1017.2 2198.5 1017.1 2202.5 1016.9 2206.5 1016.8 2210.5 1016.7 2214.5 1016.6 2218.5 1016.4 2222.5 1016.3 2226.5 1016.2 2230.5 1016.1 2234.5 1016 2238.5 1015.9 2242.5 1015.7 2246.5 1015.6 2250.5 1015.5 2254.5 1015.4 2258.5 1015.2 2262.5 1015.1 2266.5 1014.9 2270 1014.8M2282.9 1014.2L2286.5 1014.1 2290.5 1013.9 2294.5 1013.7 2298.5 1013.5 2302.5 1013.3 2306.5 1013.1 2310.5 1012.9 2314.5 1012.7"/>
<g fill="#000">
<rect x="196" y="1053" width="30" height="30"/>
<rect x="254.2" y="1053" width="30" height="30"/>
<rect x="312.7" y="1053" width="30" height="30"/>
<rect x="371.1" y="1052.7" width="30" height="30"/>
<rect x="429.6" y="1052.5" width="30" height="30"/>
<rect x="488.1" y="1052" width="30" height="30"/>
<rect x="546.5" y="1051.8" width="30" height="30"/>
<rect x="605" y="1051.5" width="30" height="30"/>
<rect x="663.4" y="1051" width="30" height="30"/>
<rect x="721.9" y="1050.7" width="30" height="30"/>
<rect x="780.3" y="1049.9" width="30" height="30"/>
<rect x="838.8" y="1049.4" width="30" height="30"/>
<rect x="897.2" y="1047.9" width="30" height="30"/>
<rect x="955.7" y="1046.8" width="30" height="30"/>
<rect x="1014.1" y="1046.6" width="30" height="30"/>
<rect x="1072.5" y="1044" width="30" height="30"/>
<rect x="1131" y="1043" width="30" height="30"/>
<rect x="1189.5" y="1041.5" width="30" height="30"/>
<rect x="1247.9" y="1040.5" width="30" height="30"/>
<rect x="1306.3" y="1037.7" width="30" height="30"/>
<rect x="1364.8" y="1036" width="30" height="30"/>
<rect x="1423.2" y="1033.4" width="30" height="30"/>
<rect x="1481.7" y="1031.6" width="30" height="30"/>
<rect x="1540.2" y="1029.1" width="30" height="30"/>
<rect x="1598.6" y="1026.6" width="30" height="30"/>
<rect x="1657" y="1023.8" width="30" height="30"/>
<rect x="1715.5" y="1021.2" width="30" height="30"/>
<rect x="1774" y="1019.2" width="30" height="30"/>
<rect x="1832.4" y="1017.2" width="30" height="30"/>
<rect x="1890.8" y="1014.7" width="30" height="30"/>
<rect x="1949.3" y="1012" width="30" height="30"/>
<rect x="2013.3" y="1010.2" width="30" height="30"/>
<rect x="2066" y="1007.3" width="30" height="30"/>
<rect x="2124" y="1004.7" width="30" height="30"/>
<rect x="2182.8" y="1002.1" width="30" height="30"/>
<rect x="2241" y="1000.3" width="30" height="30"/>
<rect x="2299.5" y="997.7" width="30" height="30"/>
</g>
<g class="mk" style="stroke-width:3.4"><rect x="2039.3" y="81.7" width="25.4" height="25.4"/></g>
<text class="leg" transform="translate(2078.7 107.7) scale(1.035 1)">Surface</text>
<g class="mk"><path d="M2052 185.3L2065.5 198.8L2052 212.3L2038.5 198.8Z"/></g>
<text class="leg" transform="translate(2078.7 212.1) scale(1.082 1)">20 mm</text>
<g class="mk"><path d="M2052 290.7L2065 315.7L2039 315.7Z"/></g>
<text class="leg" transform="translate(2078.7 316.5) scale(1.082 1)">40 mm</text>
<g class="mk"><circle cx="2052" cy="407.6" r="13.6"/></g>
<text class="leg" transform="translate(2078.7 420.9) scale(1.082 1)">60 mm</text>
<g fill="#000"><rect x="2037" y="497" width="30" height="30"/></g>
<text class="leg" transform="translate(2078.7 525.3) scale(1.078 1)">100 mm</text>
</g>
</svg>
</body></html>
